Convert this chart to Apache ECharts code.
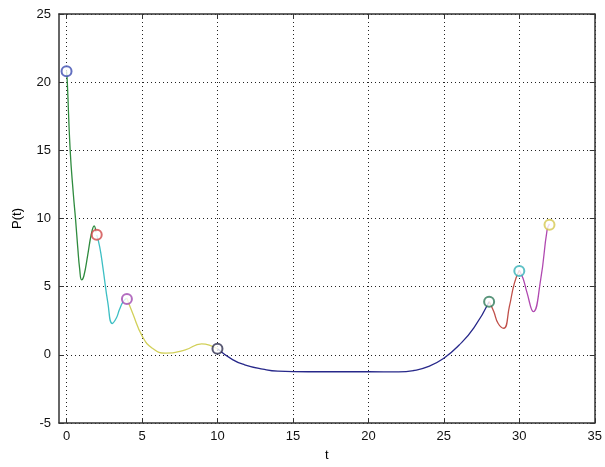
<!DOCTYPE html>
<html>
<head>
<meta charset="utf-8">
<script src="https://cdn.jsdelivr.net/npm/echarts@6/dist/echarts.min.js"></script>
<style>
html,body{margin:0;padding:0;background:#fff;}
#container{width:605px;height:467px;}
</style>
</head>
<body>
<div id="container"></div>
<script>
var dom = document.getElementById("container");
var myChart = echarts.init(dom);

// tick labels
var xTicks = [0, 5, 10, 15, 20, 25, 30, 35];
var yTicks = [-5, 0, 5, 10, 15, 20, 25];

// curve pieces (t, P(t))
var tGreen = [0, 0.05, 0.24, 0.45, 0.6, 0.74, 0.87, 1.0, 1.15, 1.4, 1.65, 1.83, 1.95];
var pGreen = [20.8, 20.0, 15.0, 11.8, 9.9, 7.9, 6.3, 5.5, 5.8, 7.3, 8.9, 9.45, 9.0];

var tCyan = [2, 2.2, 2.41, 2.74, 3.03, 3.3, 3.5, 3.75, 3.98];
var pCyan = [8.8, 7.9, 6.4, 3.8, 2.3, 2.7, 3.3, 3.9, 4.15];

var tYellow = [4, 4.38, 5.03, 5.68, 6.56, 7.87, 8.95, 9.5, 10];
var pYellow = [4.15, 3.05, 1.34, 0.49, 0.12, 0.37, 0.8, 0.7, 0.45];

var tNavy = [10, 11, 11.8, 13, 14, 16, 18, 20, 22, 23, 24, 25, 26, 27, 28];
var pNavy = [0.45, -0.35, -0.73, -1.05, -1.2, -1.24, -1.24, -1.24, -1.25, -1.15, -0.85, -0.25, 0.7, 2.0, 3.9];

var tRed = [28, 28.3, 28.6, 28.97, 29.34, 29.67, 30];
var pRed = [3.9, 3.2, 2.3, 1.95, 3.53, 5.24, 6.2];

var tMagenta = [30, 30.25, 30.5, 30.93, 31.41, 31.84, 32];
var pMagenta = [6.2, 5.6, 4.6, 3.17, 5.48, 9.14, 9.6];

// circles at the joins
var tKnots = [0, 2, 4, 10, 28, 30, 32];
var pKnots = [20.8, 8.8, 4.1, 0.45, 3.9, 6.15, 9.55];
var knotColors = ['#3c4cb0', '#d04848', '#a04ab0', '#303050', '#2f7a5a', '#36b2b8', '#d6c850'];

function pairs(xs, ys) {
    var out = [];
    for (var i = 0; i < xs.length; i++) out.push([xs[i], ys[i]]);
    return out;
}

function curve(xs, ys, color) {
    return {
        type: 'line',
        data: pairs(xs, ys),
        smooth: 0.5,
        showSymbol: false,
        lineStyle: { color: color, width: 1.3 },
        silent: true,
        z: 2
    };
}

var series = [
    curve(tGreen, pGreen, '#2e8b3e'),
    curve(tCyan, pCyan, '#3dbfc4'),
    curve(tYellow, pYellow, '#d2d05a'),
    curve(tNavy, pNavy, '#27288a'),
    curve(tRed, pRed, '#c0504a'),
    curve(tMagenta, pMagenta, '#b048b0')
];

for (var k = 0; k < tKnots.length; k++) {
    series.push({
        type: 'scatter',
        data: [[tKnots[k], pKnots[k]]],
        symbol: 'emptyCircle',
        symbolSize: 10,
        itemStyle: { color: knotColors[k], borderWidth: 1 },
        silent: true,
        z: 3
    });
}

var font = 'Liberation Sans, Arial, sans-serif';
var dotted = { show: true, lineStyle: { color: '#222', type: [1, 3], width: 1 } };

option = {
    backgroundColor: '#fff',
    animation: false,
    grid: { left: 59, right: 3, top: 14, bottom: 43, show: false },
    xAxis: [{
        type: 'value',
        min: -0.5,
        max: 35,
        name: 't',
        nameLocation: 'middle',
        nameGap: 26,
        nameTextStyle: { color: '#000', fontSize: 13, fontFamily: font },
        axisLine: { show: true, onZero: false, lineStyle: { color: '#333', width: 1.5 } },
        axisTick: { show: true, inside: true, length: 5, customValues: xTicks, lineStyle: { color: '#333' } },
        axisLabel: { customValues: xTicks, color: '#111', fontSize: 13, fontFamily: font, margin: 7 },
        splitLine: dotted
    }, {
        type: 'value',
        position: 'top',
        min: -0.5,
        max: 35,
        axisLine: { show: true, onZero: false, lineStyle: { color: '#333', width: 1.5 } },
        axisTick: { show: true, inside: true, length: 5, customValues: xTicks, lineStyle: { color: '#333' } },
        axisLabel: { show: false },
        splitLine: { show: false }
    }],
    yAxis: [{
        type: 'value',
        min: -5,
        max: 25,
        interval: 5,
        name: 'P(t)',
        nameLocation: 'middle',
        nameGap: 35,
        nameTextStyle: { color: '#000', fontSize: 13, fontFamily: font },
        axisLine: { show: true, onZero: false, lineStyle: { color: '#333', width: 1.5 } },
        axisTick: { show: true, inside: true, length: 5, lineStyle: { color: '#333' } },
        axisLabel: { color: '#111', fontSize: 13, fontFamily: font, margin: 8 },
        splitLine: dotted
    }, {
        type: 'value',
        position: 'right',
        min: -5,
        max: 25,
        interval: 5,
        axisLine: { show: true, onZero: false, lineStyle: { color: '#333', width: 1.5 } },
        axisTick: { show: true, inside: true, length: 5, lineStyle: { color: '#333' } },
        axisLabel: { show: false },
        splitLine: { show: false }
    }],
    series: series
};

if (option && typeof option === "object") {
    myChart.setOption(option, true);
}
</script>
</body>
</html>
